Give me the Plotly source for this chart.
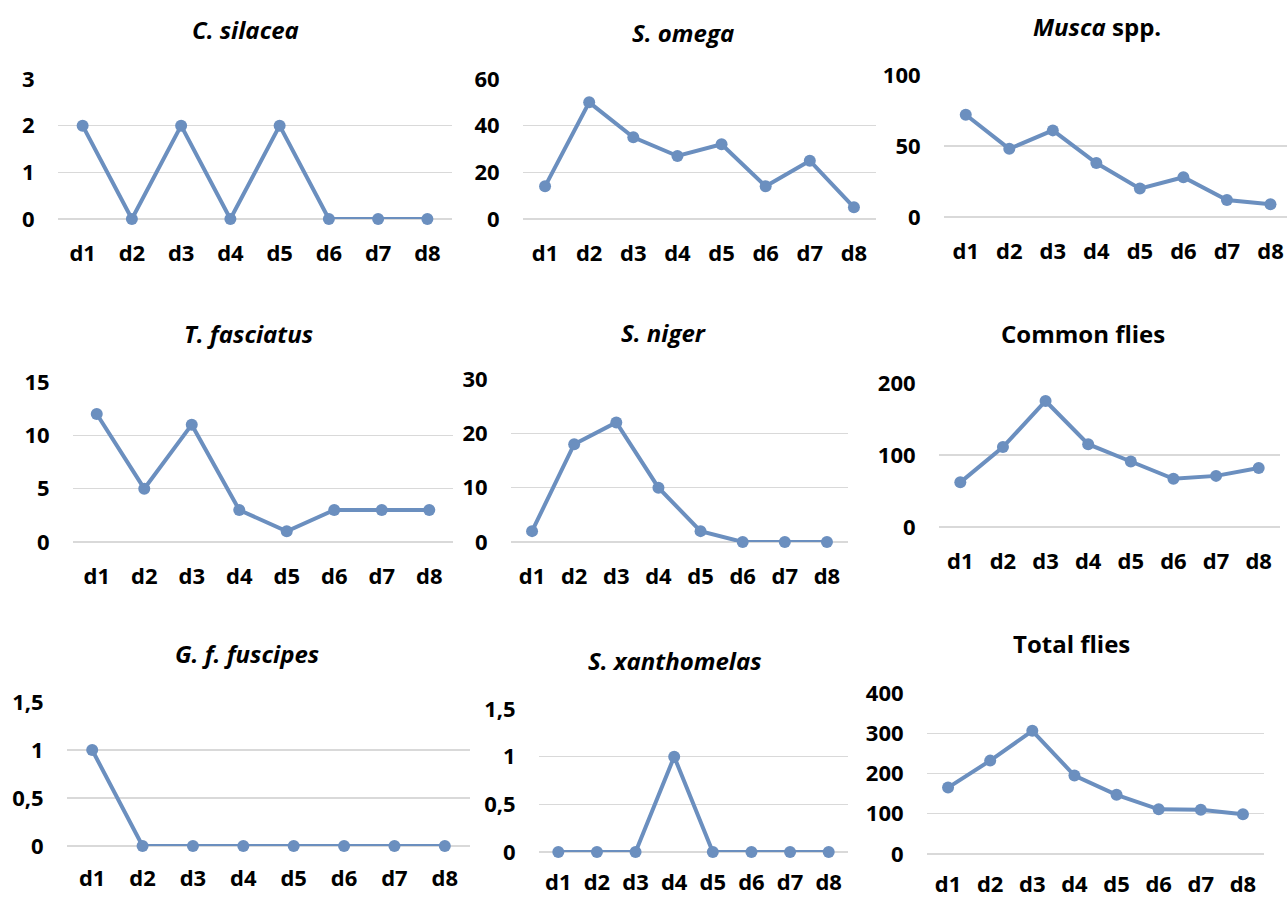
import plotly.graph_objects as go

days = ["d1", "d2", "d3", "d4", "d5", "d6", "d7", "d8"]

c_silacea = [2, 0, 2, 0, 2, 0, 0, 0]
s_omega = [14, 50, 35, 27, 32, 14, 25, 5]
musca = [72, 48, 61, 38, 20, 28, 12, 9]
t_fasciatus = [12, 5, 11, 3, 1, 3, 3, 3]
s_niger = [2, 18, 22, 10, 2, 0, 0, 0]
common_flies = [62, 111, 175, 115, 91, 67, 71, 82]
g_f_fuscipes = [1, 0, 0, 0, 0, 0, 0, 0]
s_xanthomelas = [0, 0, 0, 1, 0, 0, 0, 0]
total_flies = [165, 232, 306, 195, 147, 111, 110, 99]

titles = [
    "<b><i>C. silacea</i></b>",
    "<b><i>S. omega</i></b>",
    "<b><i>Musca</i> spp.</b>",
    "<b><i>T. fasciatus</i></b>",
    "<b><i>S. niger</i></b>",
    "<b>Common flies</b>",
    "<b><i>G. f. fuscipes</i></b>",
    "<b><i>S. xanthomelas</i></b>",
    "<b>Total flies</b>",
]
series = [c_silacea, s_omega, musca, t_fasciatus, s_niger, common_flies,
          g_f_fuscipes, s_xanthomelas, total_flies]
y_max = [3, 60, 100, 15, 30, 200, 1.5, 1.5, 400]
y_step = [1, 20, 50, 5, 10, 100, 0.5, 0.5, 100]

W, H = 1287, 897
# pixel layout: (left, right, top(y=max), bottom(y=0), title_x, title_y, x_range_end, x_ticklen)
panels = [
    (58, 452, 79, 219, 245, 30, 7.5, 15),
    (523, 876, 79, 219, 683, 32, 7.5, 15),
    (944, 1287, 75, 217, 1097, 27, 7.38, 15),
    (73, 453, 382, 542, 248, 333, 7.5, 15),
    (511, 848, 379, 542, 663, 332, 7.5, 15),
    (939, 1280, 383, 527, 1083, 333, 7.5, 15),
    (67, 470, 702, 846, 247, 653, 7.5, 13),
    (539, 848, 709, 852, 675, 660, 7.5, 11),
    (927, 1264, 693, 854, 1071, 643, 7.5, 11),
]

LINE = "#6B8FBF"
GRID = "#D9D9D9"
FONT = "Open Sans"

fig = go.Figure()
layout = dict(
    template="none",
    width=W, height=H,
    margin=dict(l=0, r=0, t=0, b=0, pad=0),
    paper_bgcolor="white", plot_bgcolor="white",
    showlegend=False,
    separators=", ",
    font=dict(family=FONT, size=22, color="#000000"),
    annotations=[],
)

for i, (vals, (l, r, t, b, tx, ty, xend, xtl)) in enumerate(zip(series, panels)):
    n = "" if i == 0 else str(i + 1)
    fig.add_trace(go.Scatter(
        x=days, y=vals, mode="lines+markers",
        xaxis="x" + n, yaxis="y" + n,
        line=dict(color=LINE, width=4),
        marker=dict(color=LINE, size=12),
        cliponaxis=False,
        hoverinfo="skip",
    ))
    layout["xaxis" + n] = dict(
        domain=[l / W, min(r / W, 1.0)],
        anchor="y" + n,
        type="category",
        range=[-0.5, xend],
        automargin=False,
        showgrid=False, showline=False, zeroline=False,
        ticks="outside", ticklen=xtl, tickcolor="rgba(0,0,0,0)",
        tickfont=dict(family=FONT, size=22, color="#000000", weight="bold"),
        fixedrange=True,
    )
    layout["yaxis" + n] = dict(
        domain=[1 - b / H, 1 - t / H],
        anchor="x" + n,
        range=[0, y_max[i]],
        dtick=y_step[i], tick0=0,
        automargin=False,
        showgrid=True, gridcolor=GRID, gridwidth=1.3,
        zeroline=True, zerolinecolor=GRID, zerolinewidth=1.3,
        showline=False,
        ticks="outside", ticklen=18, tickcolor="rgba(0,0,0,0)",
        tickfont=dict(family=FONT, size=22, color="#000000", weight="bold"),
        fixedrange=True,
    )
    layout["annotations"].append(dict(
        text=titles[i], x=tx / W, y=1 - ty / H,
        xref="paper", yref="paper", xanchor="center", yanchor="middle",
        showarrow=False,
        font=dict(family=FONT, size=24, color="#000000"),
    ))

fig.update_layout(**layout)
fig.write_html(
    "out.html",
    config={"displayModeBar": False, "staticPlot": True},
    post_script="document.body.style.margin='0';document.body.style.overflow='hidden';",
)
